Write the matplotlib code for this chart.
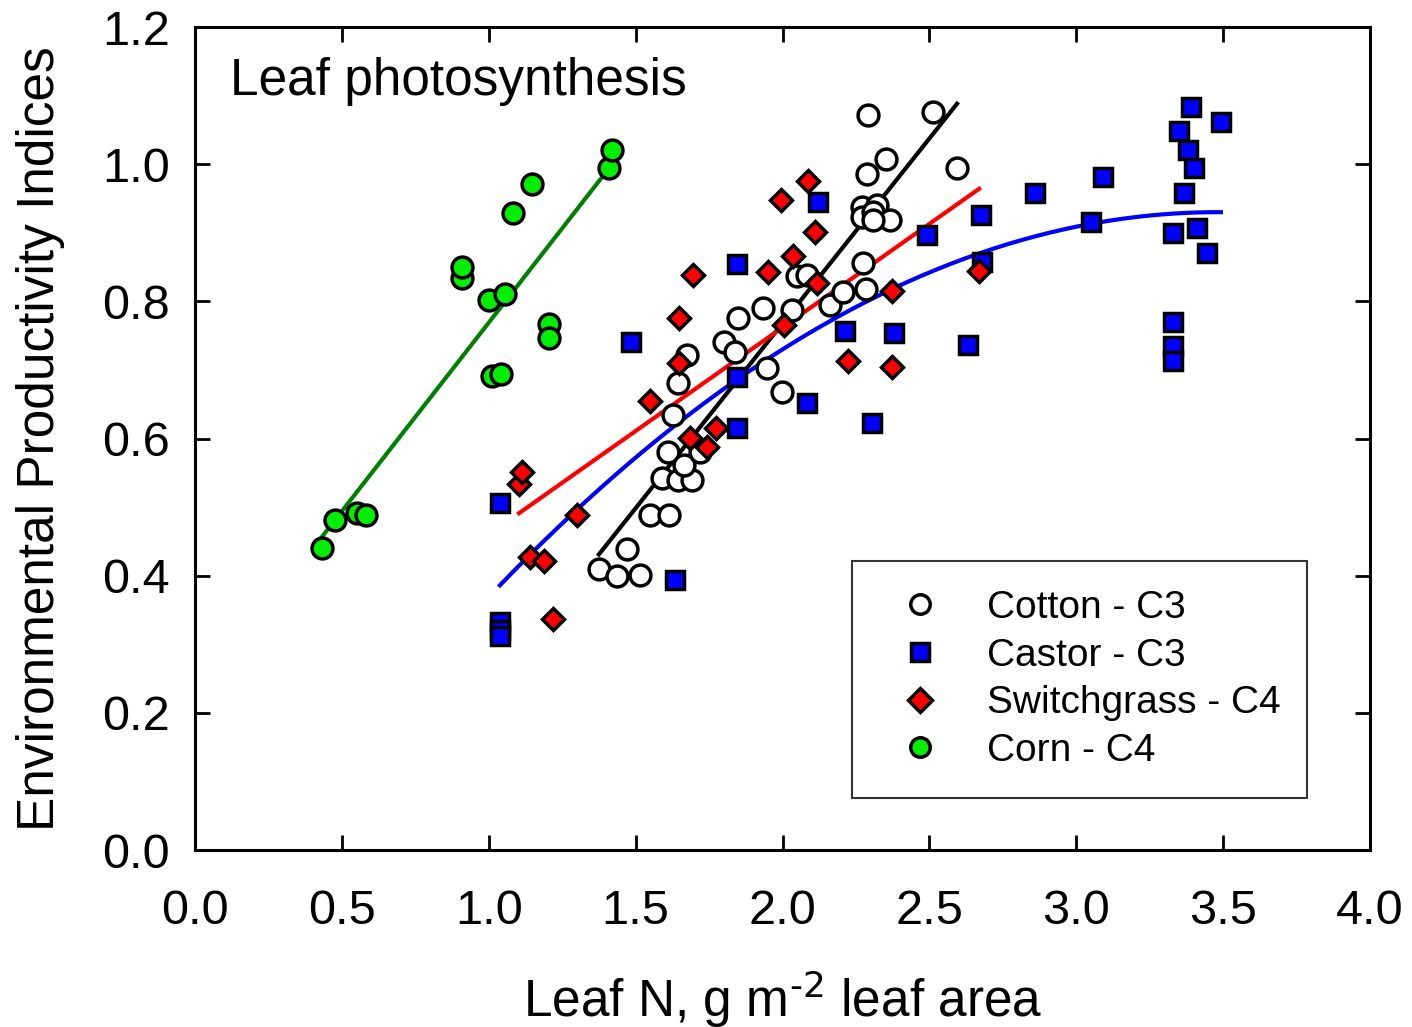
import numpy as np
import matplotlib
matplotlib.use("Agg")
from matplotlib import pyplot as plt
from matplotlib.lines import Line2D

plt.rcParams['font.family'] = ['Liberation Sans', 'DejaVu Sans']

# cotton (C3)
cotton_n = [1.375, 1.437, 1.515, 1.471, 1.549, 1.614, 1.590, 1.644, 1.692, 1.609,
            1.665, 1.719, 1.627, 1.644, 1.675, 1.801, 1.838, 1.849, 1.947, 1.998,
            1.934, 2.032, 2.049, 2.083, 2.162, 2.206, 2.284, 2.274, 2.271, 2.271,
            2.322, 2.308, 2.366, 2.308, 2.288, 2.352, 2.291, 2.512, 2.594]
cotton_epi = [0.410, 0.400, 0.401, 0.439, 0.488, 0.488, 0.542, 0.540, 0.540, 0.580,
              0.561, 0.580, 0.634, 0.681, 0.722, 0.741, 0.726, 0.776, 0.703, 0.668,
              0.790, 0.787, 0.837, 0.838, 0.795, 0.814, 0.818, 0.856, 0.938, 0.923,
              0.941, 0.930, 0.919, 0.919, 0.986, 1.008, 1.072, 1.076, 0.994]

# castor (C3)
castor_n = [1.038, 1.038, 1.038, 1.038, 1.484, 1.634, 1.845, 1.845, 1.845, 2.083,
            2.121, 2.213, 2.305, 2.380, 2.492, 2.631, 2.676, 2.679, 2.860, 3.050,
            3.091, 3.329, 3.329, 3.329, 3.329, 3.350, 3.367, 3.380, 3.391, 3.401,
            3.411, 3.445, 3.492]
castor_epi = [0.506, 0.332, 0.321, 0.312, 0.741, 0.394, 0.854, 0.690, 0.615, 0.652,
              0.945, 0.757, 0.623, 0.754, 0.897, 0.736, 0.926, 0.857, 0.958, 0.916,
              0.981, 0.770, 0.735, 0.713, 0.900, 1.048, 0.958, 1.021, 1.083, 0.994,
              0.907, 0.870, 1.062]

# switchgrass (C4)
switch_n = [1.103, 1.113, 1.219, 1.140, 1.188, 1.300, 1.549, 1.648, 1.648, 1.695,
            1.685, 1.743, 1.774, 1.951, 1.995, 2.005, 2.036, 2.087, 2.111, 2.117,
            2.223, 2.373, 2.373, 2.669]
switch_epi = [0.534, 0.551, 0.337, 0.427, 0.421, 0.488, 0.655, 0.776, 0.710, 0.838,
              0.601, 0.588, 0.615, 0.843, 0.948, 0.766, 0.866, 0.976, 0.901, 0.827,
              0.713, 0.815, 0.704, 0.844]

# corn (C4)
corn_n = [0.432, 0.477, 0.551, 0.582, 0.909, 0.909, 1.001, 1.055, 1.011, 1.042,
          1.083, 1.147, 1.205, 1.205, 1.409, 1.420]
corn_epi = [0.440, 0.481, 0.491, 0.488, 0.834, 0.850, 0.802, 0.811, 0.691, 0.694,
            0.929, 0.971, 0.767, 0.747, 0.994, 1.021]

# fitted curves (polynomial coefficients, highest power first)
cotton_fit = [0.539, -0.310]
castor_fit = [-0.09107, 0.63424, -0.17422]
switch_fit = [0.302, 0.158]
corn_fit = [0.55, 0.219]

labels = ['Cotton - C3', 'Castor - C3', 'Switchgrass - C4', 'Corn - C4']

fig = plt.figure(figsize=(14.12, 10.27), dpi=100)
ax = fig.add_axes([0.1381, 0.1723, 0.9703 - 0.1381, 0.9737 - 0.1723])


def fit_line(xs, coefs, color):
    xx = np.linspace(min(xs), max(xs), 200)
    ax.plot(xx, np.polyval(coefs, xx), color=color, lw=3.0, zorder=2)


fit_line(cotton_n, cotton_fit, 'black')
fit_line(castor_n, castor_fit, 'blue')
fit_line(switch_n, switch_fit, 'red')
fit_line(corn_n, corn_fit, 'green')

ms = 15
mew = 2.5
ax.plot(cotton_n, cotton_epi, 'o', ms=ms, mfc='white', mec='black', mew=mew, zorder=3)
ax.plot(castor_n, castor_epi, 's', ms=ms - 1.5, mfc='blue', mec='black', mew=mew, zorder=4)
ax.plot(switch_n, switch_epi, 'D', ms=ms - 3.5, mfc='red', mec='black', mew=mew, zorder=5)
ax.plot(corn_n, corn_epi, 'o', ms=ms, mfc='#00ee00', mec='black', mew=mew, zorder=6)

ax.set_xlim(0, 4.0)
ax.set_ylim(0, 1.2)
ax.set_xticks(np.arange(0, 4.01, 0.5))
ax.set_yticks(np.arange(0, 1.21, 0.2))
ax.set_xticklabels([f'{v:.1f}' for v in np.arange(0, 4.01, 0.5)])
ax.set_yticklabels([f'{v:.1f}' for v in np.arange(0, 1.21, 0.2)])
ax.tick_params(direction='in', length=11, width=2, labelsize=35, pad=18,
               top=True, right=True)
ax.tick_params(axis='x', pad=28)
for s in ax.spines.values():
    s.set_linewidth(2.2)

ax.set_xlabel('Leaf N, g m$^{\\text{-}2}$ leaf area', fontsize=37)
ax.set_ylabel('Environmental Productivity Indices', fontsize=37)
ax.xaxis.set_label_coords(0.5, -0.143)
ax.yaxis.set_label_coords(-0.111, 0.5)
ax.text(0.12, 1.12, 'Leaf photosynthesis', fontsize=37, va='center', ha='left')

handles = [
    Line2D([], [], ls='none', marker='o', ms=14, mfc='white', mec='black', mew=2.5),
    Line2D([], [], ls='none', marker='s', ms=13, mfc='blue', mec='black', mew=2.5),
    Line2D([], [], ls='none', marker='D', ms=12, mfc='red', mec='black', mew=2.5),
    Line2D([], [], ls='none', marker='o', ms=14, mfc='#00ee00', mec='black', mew=2.5),
]
leg = ax.legend(handles, labels, loc='lower left', bbox_to_anchor=(0.559, 0.0632, 0.3872, 0.287),
                mode='expand', fontsize=28, frameon=True, fancybox=False, edgecolor='black',
                handletextpad=0.72, labelspacing=0.3, borderpad=0.75, handlelength=2.0,
                borderaxespad=0)
leg.get_frame().set_linewidth(1.5)

fig.savefig('out.png', dpi=100)
